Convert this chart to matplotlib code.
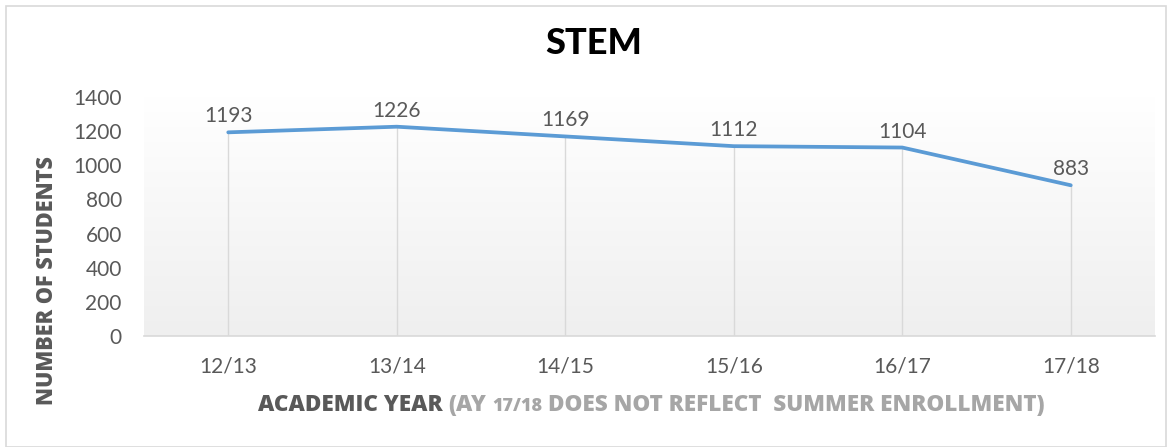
import numpy as np
import matplotlib
matplotlib.use("Agg")
import matplotlib.pyplot as plt
from matplotlib.colors import LinearSegmentedColormap
from matplotlib.patches import Rectangle

# ---- data ----
categories = ["12/13", "13/14", "14/15", "15/16", "16/17", "17/18"]
students = [1193, 1226, 1169, 1112, 1104, 883]
y_ticks = [0, 200, 400, 600, 800, 1000, 1200, 1400]
title = "STEM"
ylabel = "NUMBER OF STUDENTS"
xlabel_parts = ["ACADEMIC YEAR", "(AY", "17/18", "DOES NOT REFLECT  SUMMER ENROLLMENT)"]

W, H = 1172, 447
DPI = 100
fig = plt.figure(figsize=(W / DPI, H / DPI), dpi=DPI)
fig.patch.set_facecolor("white")

DARK = "#595959"
GREY = "#a6a6a6"
LINE = "#5b9bd5"
GRID = "#d9d9d9"
FONT = "Lato"
LFONT = "Open Sans"

# outer border
fig.add_artist(Rectangle((6 / W, 0 / H), (1166 - 6) / W, (441 - 0) / H,
                         transform=fig.transFigure, fill=False,
                         edgecolor="#d9d9d9", lw=1.2))

ax = fig.add_axes([144 / W, 1 - 336 / H, (1155 - 144) / W, (336 - 97) / H])
ax.set_xlim(-0.5, len(categories) - 0.5)
ax.set_ylim(0, 1400)

# gradient background
cmap = LinearSegmentedColormap.from_list("g", ["#efefef", "#ffffff"])
grad = np.linspace(0, 1, 256).reshape(-1, 1)
ax.imshow(grad, extent=[-0.5, len(categories) - 0.5, 0, 1400], origin="lower",
          aspect="auto", cmap=cmap, zorder=0)
ax.set_facecolor("white")

x = np.arange(len(categories))
ax.vlines(x, 0, students, color=GRID, lw=1.0, zorder=1)
ax.plot(x, students, color=LINE, lw=2.7, solid_capstyle="round",
        solid_joinstyle="round", zorder=3)

for xi, v in zip(x, students):
    ax.annotate(str(v), (xi, v), xytext=(0, 10), textcoords="offset pixels",
                ha="center", va="baseline", fontsize=15, color=DARK,
                family=FONT, zorder=4)

for s in ["top", "right", "left"]:
    ax.spines[s].set_visible(False)
ax.spines["bottom"].set_color(GRID)
ax.spines["bottom"].set_linewidth(1.2)

ax.set_yticks(y_ticks)
ax.set_yticklabels([str(t) for t in y_ticks])
ax.set_xticks(x)
ax.set_xticklabels(categories)
ax.tick_params(axis="both", length=0, labelsize=15, labelcolor=DARK)
ax.tick_params(axis="y", pad=16)
ax.tick_params(axis="x", pad=15)
for lab in ax.get_xticklabels() + ax.get_yticklabels():
    lab.set_family(FONT)

# title
fig.text(594 / W, 1 - 54 / H, title, ha="center", va="baseline",
         fontsize=26, fontweight="black", family=FONT, color="black")

# y label
fig.text(53 / W, 1 - 281 / H, ylabel, rotation=90, rotation_mode="anchor",
         ha="center", va="baseline", fontsize=15.6, fontweight=800,
         family=LFONT, color=DARK)

# x label assembled from parts
renderer = fig.canvas.get_renderer()
styles = [(DARK, 16.2), (GREY, 16.2), (GREY, 13), (GREY, 16.2)]
texts = []
widths = []
for part, (col, fs) in zip(xlabel_parts, styles):
    t = fig.text(0, 1 - 411 / H, part, ha="left", va="baseline", fontsize=fs,
                 fontweight=800, family=LFONT, color=col)
    texts.append(t)
    widths.append(t.get_window_extent(renderer).width)
tmp1 = fig.text(0, 0, "A A", fontsize=16.2, fontweight=800, family=LFONT)
tmp2 = fig.text(0, 0, "AA", fontsize=16.2, fontweight=800, family=LFONT)
space = tmp1.get_window_extent(renderer).width - tmp2.get_window_extent(renderer).width
tmp1.remove(); tmp2.remove()
total = sum(widths) + space * (len(widths) - 1)
xpos = 651 - total / 2
for t, w in zip(texts, widths):
    t.set_x(xpos / W)
    xpos += w + space

fig.savefig("out.png", dpi=DPI)
